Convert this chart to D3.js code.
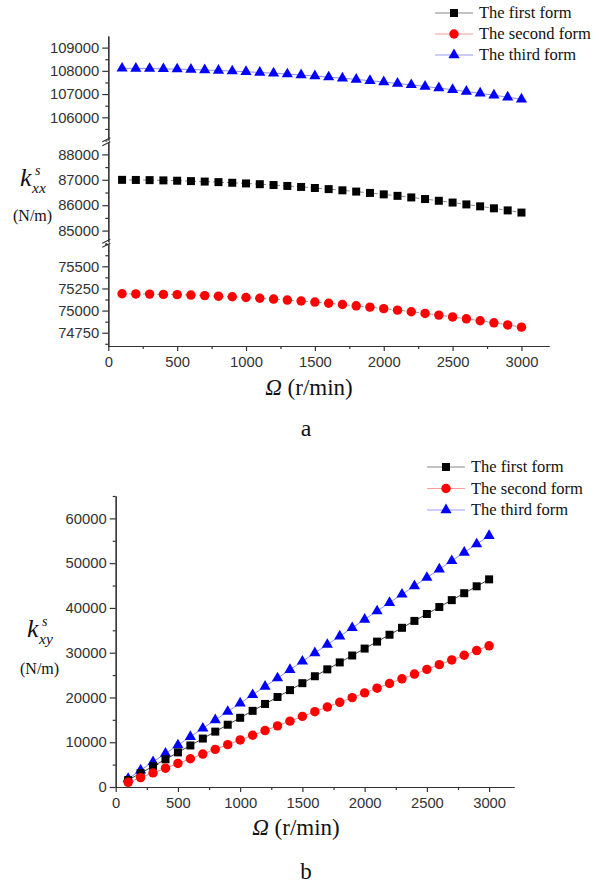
<!DOCTYPE html>
<html>
<head>
<meta charset="utf-8">
<script src="https://cdn.jsdelivr.net/npm/d3@7"></script>
<style>
  body { margin: 0; background: #fff; }
  .tick text { font-family: "Liberation Sans", Arial, sans-serif; font-size: 14.8px; fill: #333; }
  .serif { font-family: "Liberation Serif", "Times New Roman", serif; fill: #111; }
</style>
</head>
<body>
<svg id="chart" width="599" height="886"></svg>
<script>
// rotational speed (r/min)
const speed = [100, 200, 300, 400, 500, 600, 700, 800, 900, 1000,
  1100, 1200, 1300, 1400, 1500, 1600, 1700, 1800, 1900, 2000,
  2100, 2200, 2300, 2400, 2500, 2600, 2700, 2800, 2900, 3000]

const seriesNames = ["The first form", "The second form", "The third form"]

// panel a: kxx (N/m)
const kxxFirst = [86998, 86994, 86987, 86977, 86964, 86948, 86930, 86908, 86884, 86857,
  86827, 86794, 86758, 86719, 86678, 86633, 86586, 86536, 86483, 86427,
  86368, 86306, 86242, 86174, 86104, 86031, 85955, 85877, 85795, 85710]
const kxxSecond = [75190, 75188, 75186, 75183, 75180, 75175, 75169, 75163, 75156, 75148,
  75139, 75130, 75119, 75108, 75096, 75083, 75069, 75054, 75039, 75022,
  75005, 74987, 74968, 74949, 74928, 74907, 74885, 74862, 74838, 74813]
const kxxThird = [108108, 108104, 108097, 108086, 108073, 108057, 108038, 108015, 107990, 107962,
  107931, 107897, 107860, 107820, 107777, 107732, 107683, 107631, 107576, 107519,
  107458, 107395, 107328, 107259, 107186, 107111, 107033, 106951, 106867, 106780]

// panel b: kxy (N/m)
const kxyFirst = [1550, 3090, 4640, 6180, 7730, 9280, 10820, 12370, 13910, 15460,
  17010, 18550, 20100, 21640, 23190, 24740, 26280, 27830, 29370, 30920,
  32470, 34010, 35560, 37100, 38650, 40200, 41740, 43290, 44830, 46380]
const kxySecond = [1050, 2100, 3150, 4200, 5260, 6310, 7360, 8410, 9460, 10510,
  11560, 12610, 13660, 14710, 15770, 16820, 17870, 18920, 19970, 21020,
  22070, 23120, 24170, 25220, 26280, 27330, 28380, 29430, 30480, 31530]
const kxyThird = [1870, 3740, 5610, 7480, 9350, 11230, 13100, 14970, 16840, 18710,
  20580, 22450, 24320, 26190, 28060, 29940, 31810, 33680, 35550, 37420,
  39290, 41160, 43030, 44900, 46770, 48650, 50520, 52390, 54260, 56130]

// tick labels
const xTicks = [0, 500, 1000, 1500, 2000, 2500, 3000]
const xMinor = [250, 750, 1250, 1750, 2250, 2750]
const aTicksTop = [106000, 107000, 108000, 109000]
const aTicksMid = [85000, 86000, 87000, 88000]
const aTicksLow = [74750, 75000, 75250, 75500]
const bTicks = [0, 10000, 20000, 30000, 40000, 50000, 60000]

const svg = d3.select("#chart")
const fmt = d3.format("d")
const axisColor = "#333"

const styleAxis = (g) => {
  g.selectAll("path.domain").attr("stroke", axisColor).attr("stroke-width", 1.2)
  g.selectAll(".tick line").attr("stroke", axisColor).attr("stroke-width", 1.2)
}

const marker = {
  square: d3.symbol().type(d3.symbolSquare).size(64),
  circle: d3.symbol().type(d3.symbolCircle).size(70),
  triangle: d3.symbol().type(d3.symbolTriangle).size(54)
}

const styles = [
  { fill: "#000", lineA: "#8a8a8a", lineB: "#444", legend: "#888", sym: marker.square, dashA: "4,3" },
  { fill: "#ff0000", lineA: "#999", lineB: "#ff8a8a", legend: "#ff9a9a", sym: marker.circle, dashA: "4,3" },
  { fill: "#0000ff", lineA: "#8c8cff", lineB: "#8c8cff", legend: "#9a9aff", sym: marker.triangle, dashA: null }
]

const drawSeries = (g, xs, ys, vals, st, lineColor, dash) => {
  const line = d3.line().x((d, i) => xs(speed[i])).y(d => ys(d))
  g.append("path")
    .datum(vals)
    .attr("d", line)
    .attr("fill", "none")
    .attr("stroke", lineColor)
    .attr("stroke-width", 1)
    .attr("stroke-dasharray", dash)
  g.selectAll(null)
    .data(vals)
    .join("path")
    .attr("d", st.sym)
    .attr("transform", (d, i) => `translate(${xs(speed[i])},${ys(d)})`)
    .attr("fill", st.fill)
}

const drawLegend = (x0, y0, dy, fontSize) => {
  const lg = svg.append("g").attr("transform", `translate(${x0},${y0})`)
  seriesNames.forEach((name, i) => {
    const row = lg.append("g").attr("transform", `translate(0,${i * dy})`)
    row.append("line").attr("x1", 0).attr("x2", 38).attr("y1", 0).attr("y2", 0)
      .attr("stroke", styles[i].legend).attr("stroke-width", 1.2)
    row.append("path").attr("d", styles[i].sym).attr("transform", "translate(19,0)")
      .attr("fill", styles[i].fill)
    row.append("text").attr("class", "serif").attr("x", 44).attr("y", 0).attr("dy", "0.33em")
      .attr("font-size", fontSize).text(name)
  })
}

const yLabel = (x, y, sub, unitDy) => {
  const t = svg.append("g").attr("transform", `translate(${x},${y})`)
  t.append("text").attr("class", "serif").attr("font-style", "italic").attr("font-size", 26).text("k")
  t.append("text").attr("class", "serif").attr("font-style", "italic").attr("font-size", 14)
    .attr("x", 15).attr("y", -11).text("s")
  t.append("text").attr("class", "serif").attr("font-style", "italic").attr("font-size", 15.5)
    .attr("x", 12).attr("y", 7).text(sub)
  t.append("text").attr("class", "serif").attr("font-size", 16)
    .attr("x", -7).attr("y", unitDy).text("(N/m)")
}

const xLabel = (cx, y) => {
  const t = svg.append("text").attr("class", "serif").attr("x", cx).attr("y", y)
    .attr("text-anchor", "middle").attr("font-size", 23)
  t.append("tspan").attr("font-style", "italic").text("\u03A9")
  t.append("tspan").text(" (r/min)")
}

// ---------------- panel a ----------------
const xa = d3.scaleLinear().domain([0, 3200]).range([108.3, 549])
const segs = [
  { y: d3.scaleLinear().domain([104950, 109500]).range([141.7, 36]), major: aTicksTop, step: 500, vals: [kxxThird], idx: [2] },
  { y: d3.scaleLinear().domain([84500, 88500]).range([243.3, 141.7]), major: aTicksMid, step: 500, vals: [kxxFirst], idx: [0] },
  { y: d3.scaleLinear().domain([74600, 75760]).range([346, 243.3]), major: aTicksLow, step: 125, vals: [kxxSecond], idx: [1] }
]
const ga = svg.append("g")
segs.forEach(s => {
  const [lo, hi] = s.y.domain()
  const minor = d3.range(Math.ceil(lo / s.step) * s.step, hi, s.step).filter(v => !s.major.includes(v))
  ga.append("g").attr("transform", `translate(${xa(0)},0)`)
    .call(d3.axisLeft(s.y).tickValues(minor).tickSize(3).tickSizeOuter(0).tickFormat(""))
    .call(styleAxis)
  ga.append("g").attr("transform", `translate(${xa(0)},0)`)
    .call(d3.axisLeft(s.y).tickValues(s.major).tickSize(6).tickSizeOuter(0).tickPadding(3).tickFormat(fmt))
    .call(styleAxis)
})
// axis break marks
segs.slice(0, 2).forEach(s => {
  const yb = s.y.range()[0]
  ga.append("rect").attr("x", xa(0) - 1).attr("y", yb - 1).attr("width", 2).attr("height", 2).attr("fill", "#fff")
  ;[-2, 2].forEach(o => {
    ga.append("line").attr("x1", xa(0) - 6).attr("x2", xa(0) + 2)
      .attr("y1", yb + o + 2).attr("y2", yb + o - 2)
      .attr("stroke", axisColor).attr("stroke-width", 1.2)
  })
})
const xAxisA = ga.append("g").attr("transform", `translate(0,${segs[2].y.range()[0]})`)
xAxisA.call(d3.axisBottom(xa).tickValues(xMinor).tickSize(3).tickSizeOuter(0).tickFormat("")).call(styleAxis)
xAxisA.append("g").call(d3.axisBottom(xa).tickValues(xTicks).tickSize(5).tickSizeOuter(0).tickPadding(5).tickFormat(fmt)).call(styleAxis)

segs.forEach(s => {
  s.vals.forEach((v, k) => {
    const st = styles[s.idx[k]]
    drawSeries(ga, xa, s.y, v, st, st.lineA, st.dashA)
  })
})
drawLegend(435, 13, 21, 16.5)
yLabel(20, 186, "xx", 35)
xLabel(309, 395)
svg.append("text").attr("class", "serif").attr("x", 306).attr("y", 436)
  .attr("text-anchor", "middle").attr("font-size", 24).text("a")

// ---------------- panel b ----------------
const xb = d3.scaleLinear().domain([0, 3200]).range([115.7, 514])
const yb = d3.scaleLinear().domain([0, 65000]).range([787, 496])
const gb = svg.append("g")
gb.append("g").attr("transform", `translate(${xb(0)},0)`)
  .call(d3.axisLeft(yb).tickValues(d3.range(5000, 65001, 10000)).tickSize(3).tickSizeOuter(0).tickFormat(""))
  .call(styleAxis)
gb.append("g").attr("transform", `translate(${xb(0)},0)`)
  .call(d3.axisLeft(yb).tickValues(bTicks).tickSize(6).tickSizeOuter(0).tickPadding(3).tickFormat(fmt))
  .call(styleAxis)
const xAxisB = gb.append("g").attr("transform", `translate(0,${yb(0)})`)
xAxisB.call(d3.axisBottom(xb).tickValues(xMinor).tickSize(3).tickSizeOuter(0).tickFormat("")).call(styleAxis)
xAxisB.append("g").call(d3.axisBottom(xb).tickValues(xTicks).tickSize(5).tickSizeOuter(0).tickPadding(5).tickFormat(fmt)).call(styleAxis)

;[kxyThird, kxyFirst, kxySecond].forEach((v, k) => {
  const st = styles[[2, 0, 1][k]]
  drawSeries(gb, xb, yb, v, st, st.lineB, null)
})
drawLegend(427, 467, 21.5, 16.5)
yLabel(27, 637, "xy", 37)
xLabel(296, 835)
svg.append("text").attr("class", "serif").attr("x", 306).attr("y", 879)
  .attr("text-anchor", "middle").attr("font-size", 23).text("b")
</script>
</body>
</html>
